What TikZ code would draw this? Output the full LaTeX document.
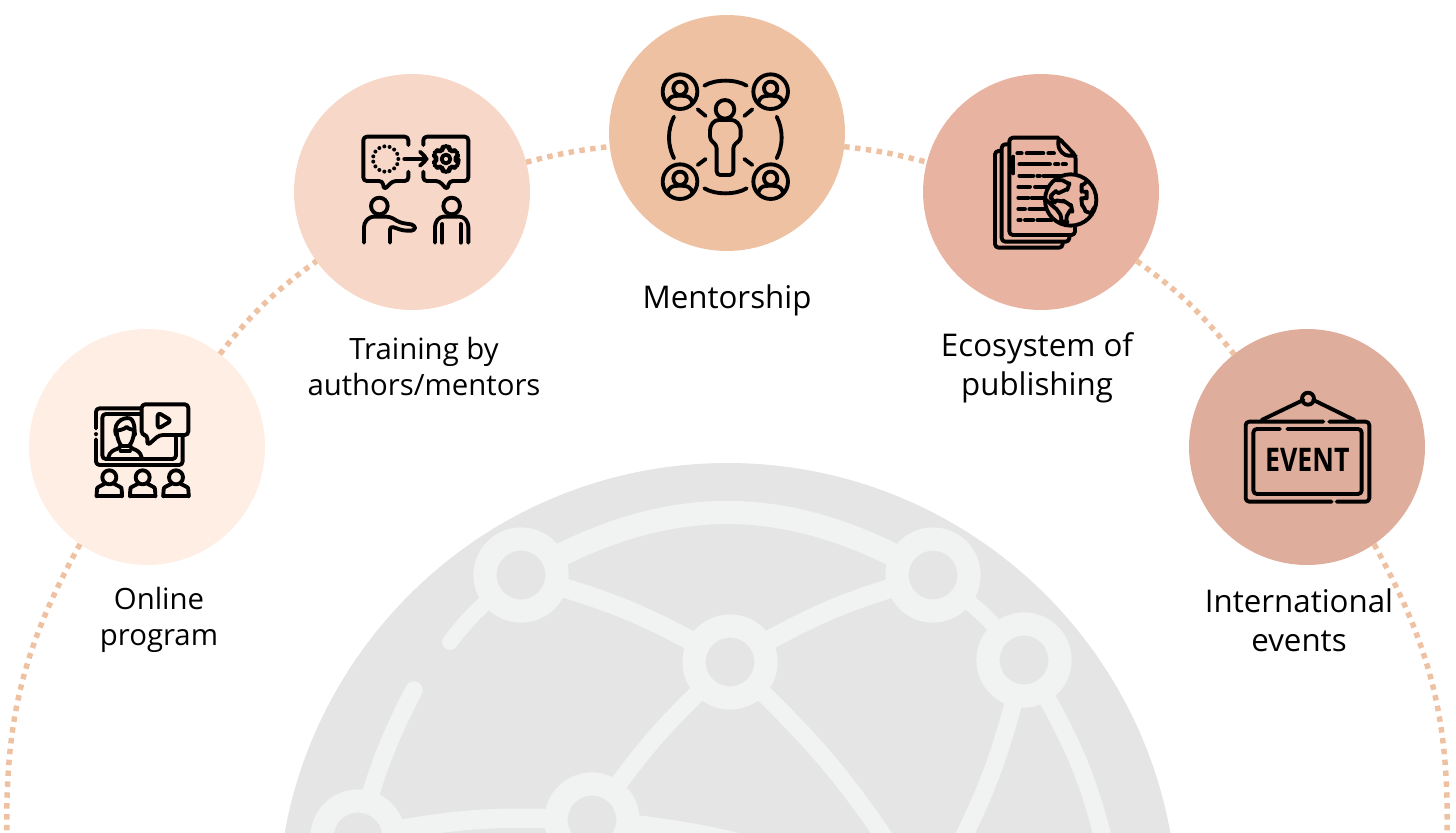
\documentclass[tikz,border=0pt]{standalone}
\usepackage{fontspec}
\setmainfont{Open Sans}
\definecolor{hubA}{HTML}{FFEEE3}
\definecolor{hubB}{HTML}{F7D8C8}
\definecolor{hubC}{HTML}{EEC1A2}
\definecolor{hubD}{HTML}{E8B3A0}
\definecolor{hubE}{HTML}{DFAD9B}
\definecolor{globefill}{HTML}{E5E5E5}
\definecolor{globeline}{HTML}{F1F3F2}
\tikzset{
  hub/.style={circle,minimum size=4.72cm,inner sep=0pt,outer sep=0pt},
  ring/.style={circle,draw=globeline,fill=globefill,line width=13.2pt,minimum size=1.44cm,inner sep=0pt,outer sep=0pt},
  arcdots/.style={draw=hubC,line width=3.1pt,dash pattern=on 3.1pt off 3.1pt},
  web/.style={draw=globeline,line cap=round},
  icon/.style={draw=black,line width=2.2pt,line cap=round,line join=round,rounded corners=2pt},
  caption/.style={align=center,text=black,font=\fontsize{16.7}{20.5}\selectfont},
  captionbig/.style={align=center,text=black,font=\fontsize{17.8}{22}\selectfont}
}
\begin{document}
\begin{tikzpicture}[x=0.02cm,y=-0.02cm]
        \useasboundingbox (0,0) rectangle (1456,832);
        \clip (0,0) rectangle (1456,832);
        % globe
        \fill[globefill] (727.5,913) circle (450);
        \node[ring] (ringA) at (521,575) {};
        \node[ring] (ringB) at (933,575) {};
        \node[ring] (ringC) at (730,662) {};
        \node[ring] (ringD) at (1024,660) {};
        \node[ring] (ringE) at (592,820) {};
        \node[ring] (ringF) at (358,837) {};
        \coordinate (stubA) at (450,642);
        \coordinate (stubB) at (414,690);
        \coordinate (exitA) at (893,850);
        \coordinate (exitB) at (957,850);
        \coordinate (exitC) at (1106,850);
        \coordinate (exitD) at (800,860);
        \draw[web,line width=13.2pt] (ringA) to[bend left=27] (ringB);
        \draw[web,line width=11pt] (ringA) to[bend left=6] (ringC);
        \draw[web,line width=11pt] (ringB) to[bend right=6] (ringC);
        \draw[web,line width=9pt] (ringA) to[bend right=6] (stubA);
        \draw[web,line width=9pt] (ringB) to[bend left=6] (ringD);
        \draw[web,line width=10pt] (ringC) to[bend right=5] (ringE);
        \draw[web,line width=10pt] (ringC) to[bend left=6] (exitA);
        \draw[web,line width=10pt] (ringD) to[bend left=6] (exitB);
        \draw[web,line width=10pt] (ringD) to[bend left=8] (exitC);
        \draw[web,line width=10pt] (stubB) to[bend right=5] (ringF);
        \draw[web,line width=11pt] (ringF) to[bend left=6] (ringE);
        \draw[web,line width=11pt] (ringE) to[bend left=5] (exitD);
        % hubs
        \node[hub,fill=hubA] (online) at (147,447) {};
        \node[hub,fill=hubB] (training) at (412,192) {};
        \node[hub,fill=hubC] (mentor) at (727,133) {};
        \node[hub,fill=hubD] (ecosys) at (1041,192) {};
        \node[hub,fill=hubE] (intl) at (1307,447) {};
        \coordinate (leftend) at (7,840);
        \coordinate (rightend) at (1447,840);
        \draw[arcdots] (online) to[bend right=15] (leftend);
        \draw[arcdots] (online) to[bend left=8] (training);
        \draw[arcdots] (training) to[bend left=4] (mentor);
        \draw[arcdots] (mentor) to[bend left=4] (ecosys);
        \draw[arcdots] (ecosys) to[bend left=8] (intl);
        \draw[arcdots] (intl) to[bend left=15] (rightend);
        % online icon
        \begin{scope}[shift={(70,380)},scale=0.3333]
        \draw[icon] (210,85) -- (78,85) -- (78,145);
        \draw[icon] (78,162) -- (78,162.5);
        \draw[icon] (78,178) -- (78,255) -- (338,255) -- (338,170);
        \draw[icon] (210,102) -- (97,102) -- (97,237) -- (318,237) -- (318,170);
        \draw[icon] (215,73) -- (355,73) -- (355,165) -- (268,165) -- (232,197) -- (232,165) -- (215,165) -- cycle;
        \draw[icon] (263,97) -- (305,122) -- (263,147) -- cycle;
        \draw[icon] (140,155) .. controls (142,185) and (155,198) .. (165,198) .. controls (178,198) and (190,185) .. (192,155);
        \draw[icon] (138,165) .. controls (125,120) and (175,105) .. (192,128) -- (195,165);
        \draw[icon] (140,152) .. controls (155,150) and (165,145) .. (170,135) .. controls (175,145) and (185,150) .. (192,150);
        \draw[icon] (115,232) .. controls (118,215) and (135,208) .. (152,205) -- (152,195);
        \draw[icon] (215,232) .. controls (212,215) and (195,208) .. (180,205) -- (180,195);
        \draw[icon] (152,213) -- (180,213);
        \foreach \px in {118,218,318}
        {
            \draw[icon] (\px,292) circle (21);
            \draw[icon] (\px-38,349) -- (\px-38,335) .. controls (\px-36,322) and (\px-25,317) .. (\px-15,312);
            \draw[icon] (\px+38,349) -- (\px+38,335) .. controls (\px+36,322) and (\px+25,317) .. (\px+15,312);
            \draw[icon] (\px-38,349) -- (\px+38,349);
        }
        \end{scope}
        % training icon
        \begin{scope}[shift={(340,120)},scale=0.3333]
        \draw[icon] (205,75) -- (205,50) -- (70,50) -- (70,183) -- (128,183) -- (132,210) -- (158,183) -- (205,183) -- (205,155);
        \draw[icon] (250,75) -- (250,50) -- (385,50) -- (385,183) -- (328,183) -- (322,210) -- (298,183) -- (250,183) -- (250,155);
        \foreach \a in {0,24,...,336}
            \fill (137,117) ++(\a:38) circle (6);
        \draw[icon] (193,117) -- (260,117);
        \draw[icon] (240,95) -- (262,117) -- (240,137);
        \begin{scope}[shift={(318,117)}]
        \draw[icon] (17:40) \foreach \a in {30,90,...,330} { -- (\a-13:40) -- (\a+13:40) -- (\a+21:29) -- (\a+39:29)} -- cycle;
        \draw[icon] (0,0) circle (13);
        \end{scope}
        \draw[icon] (118,258) circle (25);
        \draw[icon] (72,368) -- (72,310) -- (90,290) -- (150,290) -- (180,308) -- (225,315) -- (225,332) -- (190,332) -- (150,318) -- (150,368);
        \draw[icon] (335,258) circle (25);
        \draw[icon] (285,368) -- (285,310) -- (300,290) -- (370,290) -- (385,310) -- (385,368);
        \draw[icon] (307,312) -- (307,368);
        \draw[icon] (362,312) -- (362,368);
        \end{scope}
        % mentor icon
        \begin{scope}[shift={(650,65)},scale=0.3333]
        \foreach \px/\py in {90/80,362/80,90/350,362/350}
        {
            \draw[icon] (\px,\py) circle (52);
            \draw[icon] (\px,\py-10) circle (20);
            \draw[icon] (\px-37,\py+33) .. controls (\px-35,\py+18) and (\px-20,\py+14) .. (\px-12,\py+12) -- (\px+12,\py+12) .. controls (\px+20,\py+14) and (\px+35,\py+18) .. (\px+37,\py+33);
        }
        \draw[icon] (163,62) .. controls (195,42) and (258,42) .. (290,62);
        \draw[icon] (163,370) .. controls (195,390) and (258,390) .. (290,370);
        \draw[icon] (72,155) .. controls (52,195) and (52,240) .. (72,280);
        \draw[icon] (380,155) .. controls (400,195) and (400,240) .. (380,280);
        \draw[icon] (143,133) -- (167,153);
        \draw[icon] (307,133) -- (283,153);
        \draw[icon] (143,300) -- (167,282);
        \draw[icon] (307,300) -- (283,282);
        \draw[icon] (225,133) circle (28);
        \draw[icon] (195,165) -- (255,165) -- (272,185) -- (272,225) -- (250,240) -- (250,330) -- (200,330) -- (200,240) -- (180,225) -- (180,185) -- cycle;
        \end{scope}
        % publishing icon
        \begin{scope}[shift={(980,125)},scale=0.3333]
        \draw[icon] (235,38) -- (88,38) -- (88,330) -- (285,330) -- (285,300);
        \draw[icon] (287,150) -- (287,92) -- (235,38) -- (235,70) -- (255,92) -- (287,92);
        \draw[icon] (85,58) -- (65,58) -- (65,350) -- (268,350) -- (268,332);
        \draw[icon] (62,78) -- (45,78) -- (45,368) -- (248,368) -- (248,352);
        \draw[icon] (100,95) -- (100,145);
        \foreach \yy/\xa/\xb in {85/112/125,85/140/190,85/205/222,118/118/210,118/225/235,118/248/258,152/118/160,152/172/180,152/190/240,185/115/150,185/165/205,218/115/145,218/155/195,252/115/135,252/148/195,285/115/122,285/135/160,285/172/215}
            \draw[icon] (\xa,\yy) -- (\xb,\yy);
        \draw[icon,fill=hubD] (272,225) circle (77);
        \draw[icon] plot[smooth] coordinates {(228,165) (255,170) (265,185) (245,200) (220,205) (218,225) (240,228) (258,232) (275,250) (265,265) (252,290) (235,260) (215,240) (195,222)};
        \draw[icon] plot[smooth] coordinates {(320,170) (305,190) (320,210) (305,230) (325,262) (345,245)};
        \end{scope}
        % event icon
        \begin{scope}[shift={(1235,385)},scale=0.3333]
        \draw[icon] (265,110) -- (32,110) -- (32,350) -- (290,350);
        \draw[icon] (305,350) -- (403,350) -- (403,110) -- (283,110);
        \draw[icon] (135,132) -- (55,132) -- (55,327) -- (380,327) -- (380,132) -- (157,132);
        \draw[icon] (80,105) -- (205,45);
        \draw[icon] (358,105) -- (235,45);
        \draw[icon] (219,41) circle (18);
        \node (eventword) at (217,226) {\fontsize{18.5}{20}\selectfont\bfseries\scalebox{0.82}[1]{EVENT}};
        \end{scope}
        % captions
        \node[caption] (onlinetext) at (159,620) {Online\\program};
        \node[caption] (trainingtext) at (424,366) {Training by\\authors/mentors};
        \node[captionbig] (mentortext) at (727,300) {Mentorship};
        \node[captionbig] (ecosystext) at (1037,368) {Ecosystem of\\publishing};
        \node[captionbig] (intltext) at (1299,620) {International\\events};
\end{tikzpicture}
\end{document}
